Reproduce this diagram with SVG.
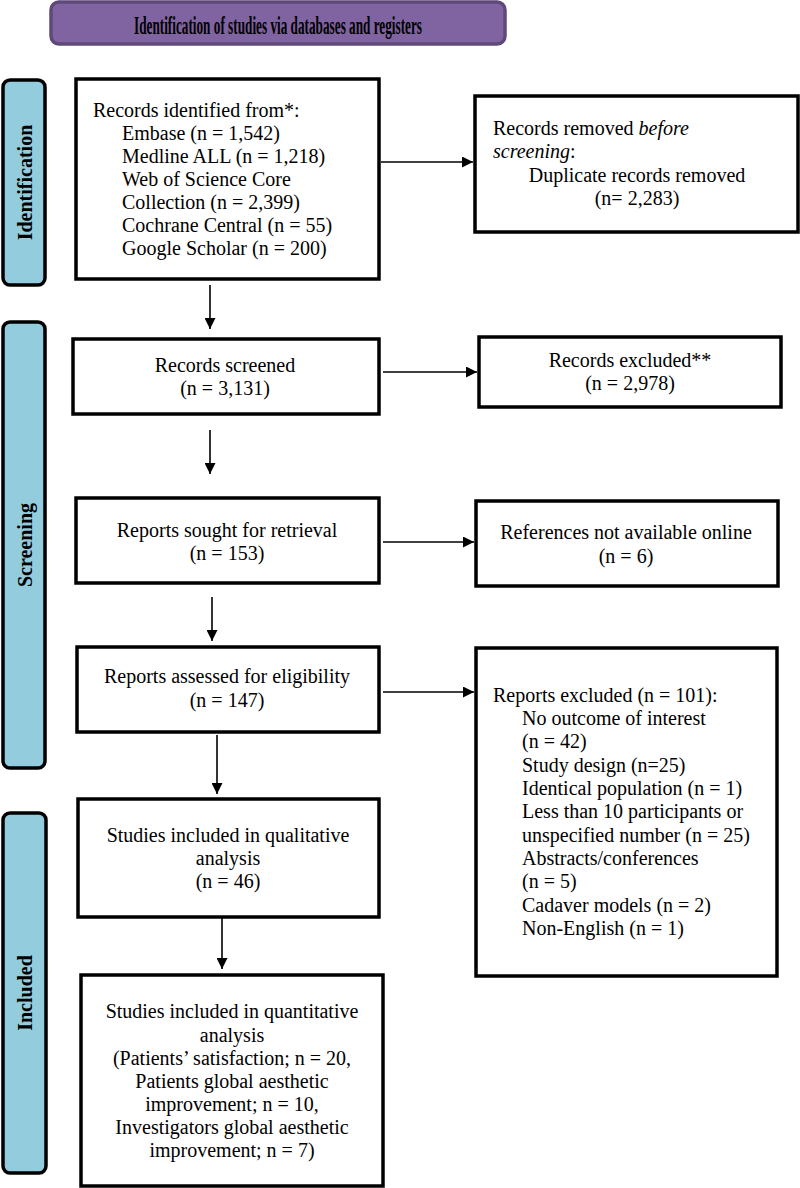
<svg xmlns="http://www.w3.org/2000/svg" width="800" height="1188" viewBox="0 0 800 1188">
<style>
.box{fill:#fff;stroke:#000;stroke-width:3.5}
.side{fill:#93CDDD;stroke:#000;stroke-width:3.5}
.t{font-family:"Liberation Serif","Times New Roman",serif;font-size:20px;fill:#000}
.c{text-anchor:middle}
.sl{font-family:"Liberation Serif","Times New Roman",serif;font-size:20px;font-weight:bold;fill:#000;text-anchor:middle}
.ln{stroke:#000;stroke-width:1.6;fill:none;marker-end:url(#ah)}
</style>
<defs>
<marker id="ah" viewBox="0 0 10 10" refX="10" refY="5" markerWidth="11" markerHeight="11" markerUnits="userSpaceOnUse" orient="auto">
<path d="M0,0 L10,5 L0,10 z" fill="#000"/>
</marker>
</defs>
<rect width="800" height="1188" fill="#fff"/>

<g id="header">
<rect x="51" y="2" width="454" height="42" rx="8" fill="#8064A2" stroke="#5F497A" stroke-width="3.5"/>
<text x="278" y="34" class="t c" style="font-weight:bold;font-size:26px" textLength="288" lengthAdjust="spacingAndGlyphs">Identification of studies via databases and registers</text>
</g>

<g id="side-identification">
<rect x="3" y="80" width="42" height="205" rx="7" class="side"/>
<text transform="translate(32,182.5) rotate(-90)" class="sl">Identification</text>
</g>
<g id="side-screening">
<rect x="3" y="322" width="42" height="446" rx="7" class="side"/>
<text transform="translate(32,545) rotate(-90)" class="sl">Screening</text>
</g>
<g id="side-included">
<rect x="3" y="813" width="43" height="360" rx="7" class="side"/>
<text transform="translate(32,993) rotate(-90)" class="sl">Included</text>
</g>

<g id="records-identified">
<rect x="76" y="79" width="303" height="200" class="box"/>
<text class="t" x="93" y="117">Records identified from*:</text>
<text class="t" x="122" y="140">Embase (n = 1,542)</text>
<text class="t" x="122" y="163">Medline ALL (n = 1,218)</text>
<text class="t" x="122" y="186">Web of Science Core</text>
<text class="t" x="122" y="209">Collection (n = 2,399)</text>
<text class="t" x="122" y="232">Cochrane Central (n = 55)</text>
<text class="t" x="122" y="255">Google Scholar (n = 200)</text>
</g>

<g id="records-removed">
<rect x="475" y="96" width="323" height="136" class="box"/>
<text class="t" x="493" y="135">Records removed <tspan font-style="italic">before</tspan></text>
<text class="t" x="493" y="158"><tspan font-style="italic">screening</tspan>:</text>
<text class="t c" x="637" y="182">Duplicate records removed</text>
<text class="t c" x="637" y="205">(n= 2,283)</text>
</g>

<g id="records-screened">
<rect x="73" y="339" width="306" height="75" class="box"/>
<text class="t c" x="225" y="372">Records screened</text>
<text class="t c" x="225" y="395">(n = 3,131)</text>
</g>

<g id="records-excluded">
<rect x="479" y="337" width="302" height="70" class="box"/>
<text class="t c" x="630" y="367">Records excluded**</text>
<text class="t c" x="630" y="390">(n = 2,978)</text>
</g>

<g id="reports-sought">
<rect x="76" y="498" width="303" height="85" class="box"/>
<text class="t c" x="227" y="537">Reports sought for retrieval</text>
<text class="t c" x="227" y="560">(n = 153)</text>
</g>

<g id="references-not-available">
<rect x="476" y="501" width="302" height="85" class="box"/>
<text class="t c" x="626" y="539">References not available online</text>
<text class="t c" x="626" y="563">(n = 6)</text>
</g>

<g id="reports-assessed">
<rect x="77" y="647" width="302" height="85" class="box"/>
<text class="t c" x="227" y="683">Reports assessed for eligibility</text>
<text class="t c" x="227" y="707">(n = 147)</text>
</g>

<g id="reports-excluded">
<rect x="476" y="648" width="301" height="328" class="box"/>
<text class="t" x="493" y="702">Reports excluded (n = 101):</text>
<text class="t" x="522" y="725">No outcome of interest</text>
<text class="t" x="522" y="748">(n = 42)</text>
<text class="t" x="522" y="772">Study design (n=25)</text>
<text class="t" x="522" y="795">Identical population (n = 1)</text>
<text class="t" x="522" y="818">Less than 10 participants or</text>
<text class="t" x="522" y="842">unspecified number (n = 25)</text>
<text class="t" x="522" y="865">Abstracts/conferences</text>
<text class="t" x="522" y="888">(n = 5)</text>
<text class="t" x="522" y="912">Cadaver models (n = 2)</text>
<text class="t" x="522" y="935">Non-English (n = 1)</text>
</g>

<g id="studies-qualitative">
<rect x="78" y="799" width="301" height="118" class="box"/>
<text class="t c" x="228" y="842">Studies included in qualitative</text>
<text class="t c" x="228" y="865">analysis</text>
<text class="t c" x="228" y="888">(n = 46)</text>
</g>

<g id="studies-quantitative">
<rect x="81" y="975" width="302" height="211" class="box"/>
<text class="t c" x="232" y="1018">Studies included in quantitative</text>
<text class="t c" x="232" y="1042">analysis</text>
<text class="t c" x="232" y="1065">(Patients’ satisfaction; n = 20,</text>
<text class="t c" x="232" y="1088">Patients global aesthetic</text>
<text class="t c" x="232" y="1111">improvement; n = 10,</text>
<text class="t c" x="232" y="1134">Investigators global aesthetic</text>
<text class="t c" x="232" y="1157">improvement; n = 7)</text>
</g>

<g id="connectors">
<line class="ln" x1="381" y1="162" x2="473" y2="162"/>
<line class="ln" x1="383" y1="372" x2="477" y2="372"/>
<line class="ln" x1="383" y1="542" x2="474" y2="542"/>
<line class="ln" x1="383" y1="692" x2="474" y2="692"/>
<line class="ln" x1="210" y1="285" x2="210" y2="329"/>
<line class="ln" x1="210" y1="430" x2="210" y2="474"/>
<line class="ln" x1="212" y1="597" x2="212" y2="641"/>
<line class="ln" x1="217" y1="735" x2="217" y2="794"/>
<line class="ln" x1="222" y1="917" x2="222" y2="969"/>
</g>
</svg>
